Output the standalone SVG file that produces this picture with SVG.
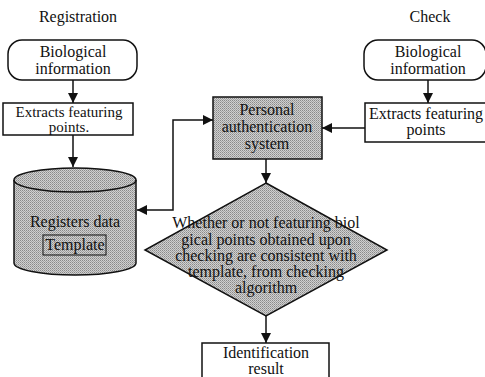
<svg xmlns="http://www.w3.org/2000/svg" width="485" height="377" viewBox="0 0 485 377" font-family="'Liberation Serif', 'DejaVu Serif', 'Times New Roman', serif">
  <style>
    text { font-family: "Liberation Serif", "DejaVu Serif", "Times New Roman", serif; font-size: 16px; fill: #111; text-anchor: middle; }
    .small { font-size: 15px; }
    .box { fill: #fff; stroke: #111; stroke-width: 1.5; }
    .shade { fill: url(#dots); stroke: #111; stroke-width: 1.5; }
    .wire { fill: none; stroke: #111; stroke-width: 1.5; }
  </style>
  <defs>
    <pattern id="dots" width="2" height="2" patternUnits="userSpaceOnUse">
      <rect width="2" height="2" fill="#d0d0d0"/>
      <rect width="1" height="1" fill="#8a8a8a"/>
      <rect x="1" y="1" width="1" height="1" fill="#a4a4a4"/>
    </pattern>
    <marker id="arrow" viewBox="0 0 10 10" refX="10" refY="5" markerWidth="10" markerHeight="10" markerUnits="userSpaceOnUse" orient="auto-start-reverse">
      <path d="M0,0 L10,5 L0,10 Z" fill="#111"/>
    </marker>
  </defs>

  <rect width="485" height="377" fill="#fff"/>

  <text x="78" y="22">Registration</text>
  <text x="430" y="22">Check</text>

  <g id="connectors">
    <line class="wire" x1="73" y1="80" x2="73" y2="103" marker-end="url(#arrow)"/>
    <line class="wire" x1="73" y1="135" x2="73" y2="167" marker-end="url(#arrow)"/>
    <path class="wire" d="M137,210 H173 V120 H213" marker-start="url(#arrow)" marker-end="url(#arrow)"/>
    <line class="wire" x1="428" y1="80" x2="428" y2="103" marker-end="url(#arrow)"/>
    <line class="wire" x1="365" y1="128" x2="322" y2="128" marker-end="url(#arrow)"/>
    <line class="wire" x1="266" y1="159" x2="266" y2="183" marker-end="url(#arrow)"/>
    <line class="wire" x1="266" y1="316" x2="266" y2="343" marker-end="url(#arrow)"/>
  </g>

  <g id="reg-bio">
    <rect class="box" x="8" y="40" width="129" height="40" rx="14"/>
    <text x="73" y="57">Biological</text>
    <text x="73" y="74">information</text>
  </g>

  <g id="reg-extract">
    <rect class="box" x="3" y="103" width="130" height="32"/>
    <text class="small" x="69" y="117">Extracts featuring</text>
    <text class="small" x="69" y="132">points.</text>
  </g>

  <g id="reg-store">
    <path class="shade" d="M14,180 V263 A61,12 0 0 0 136,263 V180 A61,12 0 0 0 14,180 Z"/>
    <path class="wire" d="M14,180 A61,12 0 0 0 136,180"/>
    <text x="75" y="227">Registers data</text>
    <rect fill="none" stroke="#111" stroke-width="1" x="43" y="235" width="63" height="20"/>
    <text x="75" y="250">Template</text>
  </g>

  <g id="auth-system">
    <rect class="shade" x="213" y="97" width="109" height="62"/>
    <text x="267" y="115">Personal</text>
    <text x="267" y="132">authentication</text>
    <text x="267" y="149">system</text>
  </g>

  <g id="chk-bio">
    <rect class="box" x="364" y="40" width="122" height="40" rx="14"/>
    <text x="428" y="57">Biological</text>
    <text x="428" y="74">information</text>
  </g>

  <g id="chk-extract">
    <rect class="box" x="365" y="103" width="122" height="39"/>
    <text x="426" y="119">Extracts featuring</text>
    <text x="426" y="135">points</text>
  </g>

  <g id="decision">
    <polygon class="shade" points="266,183 387,250 266,316 145,250"/>
    <text x="266" y="228">Whether or not featuring biol</text>
    <text x="266" y="245">gical points obtained upon</text>
    <text x="266" y="261">checking are consistent with</text>
    <text x="266" y="277">template, from checking</text>
    <text x="266" y="293">algorithm</text>
  </g>

  <g id="result">
    <rect class="box" x="202" y="343" width="127" height="40"/>
    <text x="266" y="358">Identification</text>
    <text x="266" y="374">result</text>
  </g>
</svg>
